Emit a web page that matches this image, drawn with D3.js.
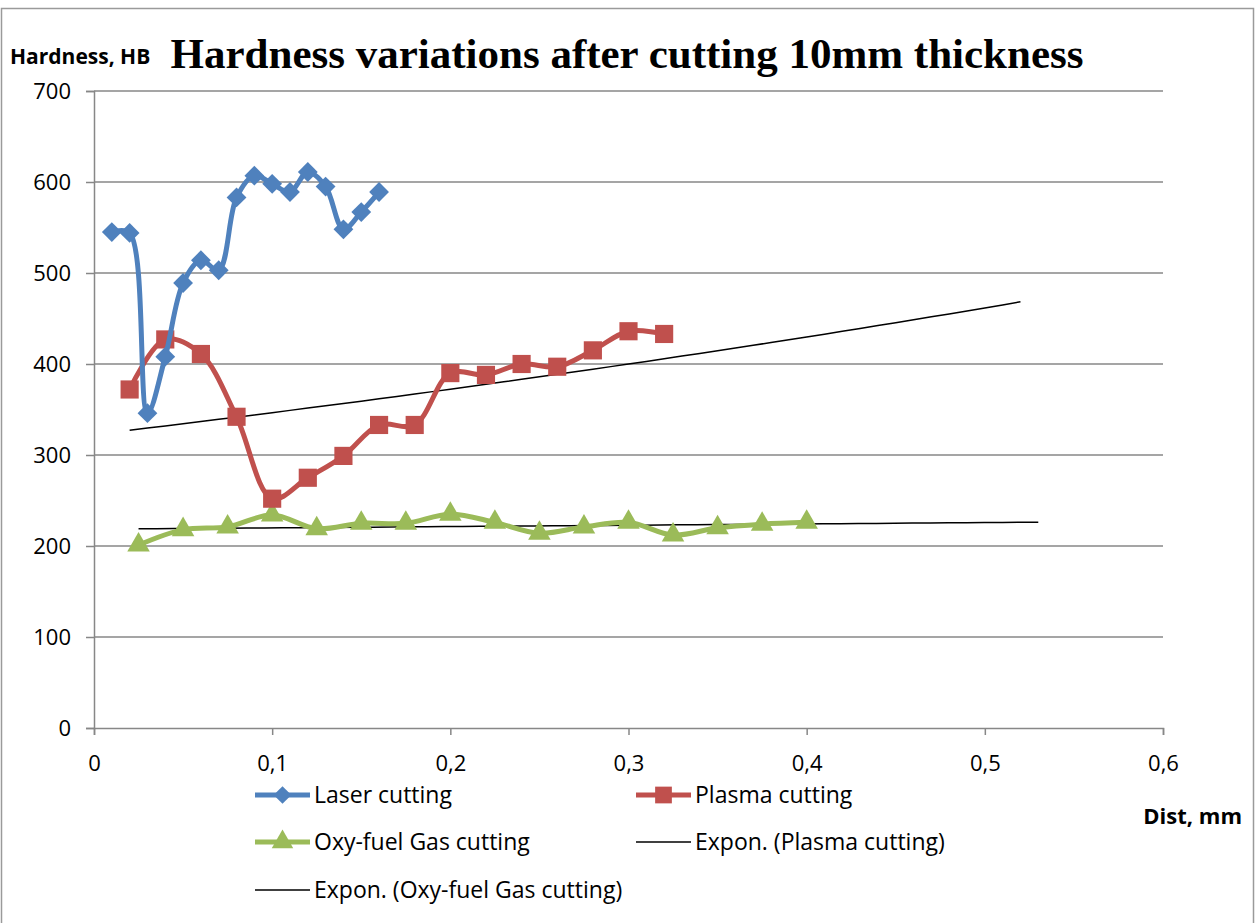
<!DOCTYPE html>
<html><head><meta charset="utf-8">
<script src="https://cdn.jsdelivr.net/npm/d3@7"></script>
<style>
body{margin:0;background:#fff;}
svg{display:block;}
</style></head>
<body>
<svg id="c" width="1259" height="923"></svg>
<script>
// ---- data ----
const laserX = [0.01,0.02,0.03,0.04,0.05,0.06,0.07,0.08,0.09,0.10,0.11,0.12,0.13,0.14,0.15,0.16];
const laserY = [545,544,346,408,489,514,503,583,607,598,589,611,595,548,567,589];
const plasmaX = [0.02,0.04,0.06,0.08,0.10,0.12,0.14,0.16,0.18,0.20,0.22,0.24,0.26,0.28,0.30,0.32];
const plasmaY = [372,427,411,342,252,275,299,333,333,390,388,400,397,415,436,433];
const oxyX = [0.025,0.05,0.075,0.1,0.125,0.15,0.175,0.2,0.225,0.25,0.275,0.3,0.325,0.35,0.375,0.4];
const oxyY = [201,218,221,234,219,225,225,235,226,214,221,226,212,220,224,226];
const xTicks = [0,0.1,0.2,0.3,0.4,0.5,0.6];
const yTicks = [0,100,200,300,400,500,600,700];
const trendForward = {plasma:0.2, oxy:0.13};
const legendLabels = ["Laser cutting","Plasma cutting","Oxy-fuel Gas cutting","Expon. (Plasma cutting)","Expon. (Oxy-fuel Gas cutting)"];

const colors = {laser:"#4F81BD", plasma:"#C0504D", oxy:"#9BBB59"};
const FONT = "'Open Sans', Lato, sans-serif";

const svg = d3.select("#c");
const L=94,R=1163,T=91,B=728;
const x = d3.scaleLinear().domain([0,0.6]).range([L,R]);
const y = d3.scaleLinear().domain([0,700]).range([B,T]);

// outer border
svg.append("rect").attr("x",1.5).attr("y",8.5).attr("width",1252).attr("height",920)
  .attr("fill","none").attr("stroke","#9a9a9a").attr("stroke-width",1.5);

// gridlines
svg.append("g").selectAll("line").data(yTicks.filter(d=>d>0)).join("line")
  .attr("x1",L).attr("x2",R).attr("y1",d=>y(d)).attr("y2",d=>y(d))
  .attr("stroke","#878787").attr("stroke-width",1.5);

// y axis
const yAxis = d3.axisLeft(y).tickValues(yTicks).tickSize(8).tickFormat(d3.format("d")).tickPadding(15);
const gy = svg.append("g").attr("transform",`translate(${L},0)`).call(yAxis);
gy.select(".domain").attr("stroke","#878787").attr("stroke-width",1.5);
gy.selectAll(".tick line").attr("stroke","#878787").attr("stroke-width",1.5);
gy.selectAll("text").attr("font-family",FONT).attr("font-size",22).attr("fill","#000");

// x axis
const fmtX = d => String(d).replace(".",",");
const xAxis = d3.axisBottom(x).tickValues(xTicks).tickSize(7).tickFormat(fmtX).tickPadding(12);
const gx = svg.append("g").attr("transform",`translate(0,${B})`).call(xAxis);
gx.select(".domain").attr("stroke","#878787").attr("stroke-width",1.5);
gx.selectAll(".tick line").attr("stroke","#878787").attr("stroke-width",1.5);
gx.selectAll("text").attr("font-family",FONT).attr("font-size",22).attr("fill","#000")
  .attr("y",43).attr("dy",0);

// exponential trend fit (least squares on ln y, as spreadsheet does)
function expFit(xs, ys){
  const n=xs.length, lys=ys.map(Math.log);
  const mx=d3.mean(xs), my=d3.mean(lys);
  let sxy=0,sxx=0;
  for(let i=0;i<n;i++){sxy+=(xs[i]-mx)*(lys[i]-my); sxx+=(xs[i]-mx)**2;}
  const b=sxy/sxx, a=Math.exp(my-b*mx);
  return v=>a*Math.exp(b*v);
}
function trendPts(xs, ys, fwd){
  const f=expFit(xs,ys);
  const x0=d3.min(xs), x1=d3.max(xs)+fwd;
  return d3.range(0,51).map(i=>{const v=x0+(x1-x0)*i/50; return [v,f(v)];});
}
const tl = d3.line().x(d=>x(d[0])).y(d=>y(d[1]));
svg.append("path").attr("d",tl(trendPts(plasmaX,plasmaY,trendForward.plasma)))
  .attr("fill","none").attr("stroke","#000").attr("stroke-width",1.5);
svg.append("path").attr("d",tl(trendPts(oxyX,oxyY,trendForward.oxy)))
  .attr("fill","none").attr("stroke","#000").attr("stroke-width",1.5);

const line = d3.line().x(d=>x(d[0])).y(d=>y(d[1])).curve(d3.curveCatmullRom.alpha(0.5));
const sym = {
  laser: d3.symbol().type(d3.symbolDiamond2).size(250),
  plasma: d3.symbol().type(d3.symbolSquare).size(330),
  oxy: d3.symbol().type(d3.symbolTriangle).size(220)
};
function series(xs, ys, key){
  const pts = xs.map((v,i)=>[v,ys[i]]);
  const g = svg.append("g");
  g.append("path").attr("d",line(pts)).attr("fill","none").attr("stroke",colors[key])
    .attr("stroke-width",5).attr("stroke-linejoin","round").attr("stroke-linecap","round");
  g.selectAll("path.m").data(pts).join("path").attr("class","m")
    .attr("d",sym[key]()).attr("transform",d=>`translate(${x(d[0])},${y(d[1])})`)
    .attr("fill",colors[key]);
}
series(oxyX,oxyY,"oxy");
series(plasmaX,plasmaY,"plasma");
series(laserX,laserY,"laser");

// titles
svg.append("text").attr("x",627).attr("y",68).attr("text-anchor","middle")
  .attr("font-family","'Liberation Serif','Times New Roman',serif").attr("font-weight","bold")
  .attr("font-size",43).text("Hardness variations after cutting 10mm thickness");
svg.append("text").attr("x",10).attr("y",64)
  .attr("font-family",FONT).attr("font-weight","bold").attr("font-size",21).text("Hardness, HB");
svg.append("text").attr("x",1242).attr("y",824).attr("text-anchor","end")
  .attr("font-family",FONT).attr("font-weight","bold").attr("font-size",22).text("Dist, mm");

// legend
const legItems = [
  {lab:legendLabels[0], x:255, y:795, key:"laser"},
  {lab:legendLabels[1], x:636, y:795, key:"plasma"},
  {lab:legendLabels[2], x:255, y:842, key:"oxy"},
  {lab:legendLabels[3], x:636, y:842, key:null},
  {lab:legendLabels[4], x:255, y:890, key:null}
];
const lg = svg.append("g");
legItems.forEach(it=>{
  const c = it.key? colors[it.key] : "#000";
  lg.append("line").attr("x1",it.x).attr("x2",it.x+55).attr("y1",it.y).attr("y2",it.y)
    .attr("stroke",c).attr("stroke-width",it.key?5:1.5);
  if(it.key){
    const s = d3.symbol().type(it.key==="laser"?d3.symbolDiamond2:it.key==="plasma"?d3.symbolSquare:d3.symbolTriangle)
      .size(it.key==="laser"?200:it.key==="plasma"?280:200);
    lg.append("path").attr("d",s()).attr("transform",`translate(${it.x+27.5},${it.y})`).attr("fill",c);
  }
  lg.append("text").attr("x",it.x+59).attr("y",it.y+8).attr("font-family",FONT)
    .attr("font-size",23).text(it.lab);
});
</script>
</body></html>
